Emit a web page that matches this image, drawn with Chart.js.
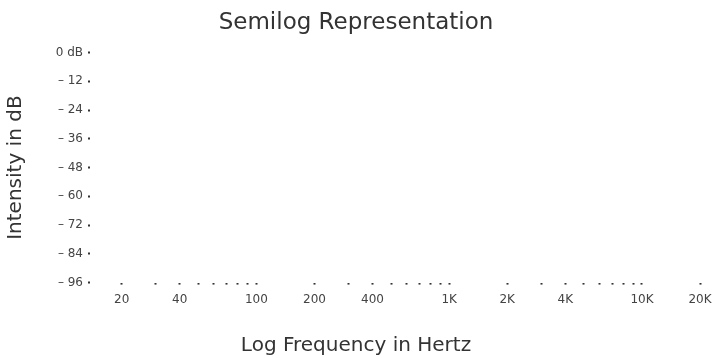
<!DOCTYPE html>
<html>
<head>
<meta charset="utf-8">
<script src="https://cdn.jsdelivr.net/npm/chart.js@4/dist/chart.umd.min.js"></script>
<style>
  body { margin: 0; background: #fff; }
  #wrap { width: 712px; height: 358px; position: relative; }
</style>
</head>
<body>
<div id="wrap"><canvas id="chart"></canvas></div>
<script>
// frequency axis: every tick mark (dots) and the labels shown under them
const freqTicks = [20, 30, 40, 50, 60, 70, 80, 90,
                   100, 200, 300, 400, 500, 600, 700, 800, 900,
                   1000, 2000, 3000, 4000, 5000, 6000, 7000, 8000, 9000,
                   10000, 20000];
const freqLabels = ['20', '', '40', '', '', '', '', '',
                    '100', '200', '', '400', '', '', '', '', '',
                    '1K', '2K', '', '4K', '', '', '', '', '',
                    '10K', '20K'];
// intensity axis: marks every 6 dB, labels every 12 dB
const dbTicks = [0, -6, -12, -18, -24, -30, -36, -42, -48, -54, -60, -66, -72, -78, -84, -90, -96];
const dbLabels = ['0 dB', '', '\u2013 12', '', '\u2013 24', '', '\u2013 36', '', '\u2013 48', '',
                  '\u2013 60', '', '\u2013 72', '', '\u2013 84', '', '\u2013 96'];
// no measurements are plotted in the reference
const intensity = [];

const font = 'DejaVu Sans';

function dotGrid() {
  return {
    drawOnChartArea: false,
    drawTicks: true,
    tickLength: 2,
    tickWidth: 2,
    tickColor: '#333'
  };
}

new Chart(document.getElementById('chart'), {
  type: 'scatter',
  data: {
    datasets: [{
      label: 'Intensity',
      data: intensity
    }]
  },
  options: {
    responsive: true,
    maintainAspectRatio: false,
    animation: false,
    plugins: {
      legend: { display: false },
      tooltip: { enabled: false },
      title: {
        display: true,
        text: 'Semilog Representation',
        color: '#333',
        font: { family: font, size: 23, weight: 'normal' },
        padding: { top: 9, bottom: 16 }
      },
      subtitle: {
        display: true,
        position: 'bottom',
        text: 'Log Frequency in Hertz',
        color: '#333',
        font: { family: font, size: 20, weight: 'normal' },
        padding: { top: 19, bottom: 0 }
      }
    },
    scales: {
      x: {
        type: 'logarithmic',
        min: 13.7,
        max: 20000,
        border: { display: false },
        grid: dotGrid(),
        afterBuildTicks: (scale) => { scale.ticks = freqTicks.map(v => ({ value: v })); },
        // keep the 20K mark close to the right edge, as in the reference
        afterFit: (scale) => { scale.paddingRight = 12; },
        ticks: {
          autoSkip: false,
          maxRotation: 0,
          minRotation: 0,
          padding: 8,
          color: '#444',
          font: { family: font, size: 12 },
          callback: (v) => freqLabels[freqTicks.indexOf(v)]
        }
      },
      y: {
        min: -96,
        max: 0,
        border: { display: false },
        grid: dotGrid(),
        afterBuildTicks: (scale) => { scale.ticks = dbTicks.map(v => ({ value: v })); },
        afterFit: (scale) => { scale.width = 90; },
        ticks: {
          padding: 5,
          color: '#444',
          font: { family: font, size: 12 },
          callback: (v) => dbLabels[dbTicks.indexOf(v)]
        },
        title: {
          display: true,
          text: 'Intensity in dB',
          color: '#333',
          font: { family: font, size: 20, weight: 'normal' },
          padding: { top: 4, bottom: 0 }
        }
      }
    }
  }
});
</script>
</body>
</html>
